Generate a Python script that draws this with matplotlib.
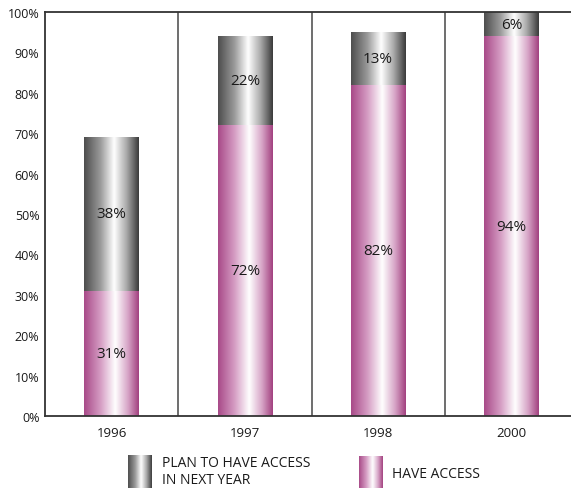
import numpy as np
import matplotlib
matplotlib.use("Agg")
import matplotlib.pyplot as plt
from matplotlib.colors import LinearSegmentedColormap

plt.rcParams['font.family'] = ['Open Sans', 'DejaVu Sans']

years = ["1996", "1997", "1998", "2000"]
have_access = [31, 72, 82, 94]
plan_access = [38, 22, 13, 6]
yticks = [0, 10, 20, 30, 40, 50, 60, 70, 80, 90, 100]
ytick_labels = [f"{v}%" for v in yticks]
legend_labels = ["PLAN TO HAVE ACCESS\nIN NEXT YEAR", "HAVE ACCESS"]

# Horizontal cylinder-like shading for each series
gray_cmap = LinearSegmentedColormap.from_list(
    "gray_cyl",
    [(0.0, "#4d4d4d"), (0.3, "#9a9a9a"), (0.55, "#ffffff"),
     (0.78, "#a8a8a8"), (1.0, "#3a3a3a")])
pink_cmap = LinearSegmentedColormap.from_list(
    "pink_cyl",
    [(0.0, "#a84a88"), (0.3, "#d59cc3"), (0.57, "#ffffff"),
     (0.8, "#d7a5c7"), (1.0, "#a2407f")])
grad = np.linspace(0, 1, 256).reshape(1, -1)

W, H = 571, 489
fig = plt.figure(figsize=(W / 100, H / 100), dpi=100)
ax_left, ax_right = 45, 578
ax_top, ax_bot = 13, 417
ax = fig.add_axes([ax_left / W, (H - ax_bot) / H,
                   (ax_right - ax_left) / W, (ax_bot - ax_top) / H])

x = np.arange(len(years))
bar_w = 0.41


def shaded_bars(bottoms, heights, cmap):
    bars = ax.bar(x, heights, bar_w, bottom=bottoms, color="none",
                  edgecolor="none", zorder=2)
    for rect in bars:
        x0, y0 = rect.get_x(), rect.get_y()
        im = ax.imshow(grad, cmap=cmap, aspect="auto", interpolation="bicubic",
                       extent=(x0, x0 + rect.get_width(), y0, y0 + rect.get_height()),
                       zorder=2)
        im.set_clip_path(rect)
    return bars


shaded_bars(np.zeros(len(years)), have_access, pink_cmap)
shaded_bars(np.array(have_access), plan_access, gray_cmap)

for xi, h, p in zip(x, have_access, plan_access):
    ax.text(xi, h / 2, f"{h}%", ha="center", va="center", fontsize=11,
            color="#1a1a1a", zorder=3)
    ax.text(xi, h + p / 2, f"{p}%", ha="center", va="center", fontsize=11,
            color="#1a1a1a", zorder=3)

# Vertical dividers between year groups
for b in x[:-1] + 0.5:
    ax.axvline(b, color="#555555", lw=1.2, zorder=1)

ax.set_xlim(-0.5, len(years) - 0.5)
ax.set_ylim(0, 100)
ax.set_yticks(yticks)
ax.set_yticklabels(ytick_labels)
ax.set_xticks(x)
ax.set_xticklabels(years)
ax.tick_params(axis="both", length=0, labelsize=9, colors="#1a1a1a")
ax.tick_params(axis="x", labelsize=9.5, pad=7)
ax.tick_params(axis="y", pad=4)
for s in ["left", "top", "bottom"]:
    ax.spines[s].set_color("#333333")
    ax.spines[s].set_linewidth(1.3)
ax.spines["right"].set_visible(False)

# Legend swatches and labels
def swatch(px, py, pw, ph, cmap):
    sax = fig.add_axes([px / W, (H - py - ph) / H, pw / W, ph / H])
    sax.imshow(grad, cmap=cmap, aspect="auto", interpolation="bicubic")
    sax.axis("off")


swatch(128, 456, 24, 34, gray_cmap)
swatch(359, 457, 24, 33, pink_cmap)
fig.text(162 / W, 1 - 472 / H, legend_labels[0], ha="left", va="center",
         fontsize=10, color="#1a1a1a", linespacing=1.15)
fig.text(392 / W, 1 - 475 / H, legend_labels[1], ha="left", va="center",
         fontsize=10, color="#1a1a1a")

fig.savefig("out.png", dpi=100)
